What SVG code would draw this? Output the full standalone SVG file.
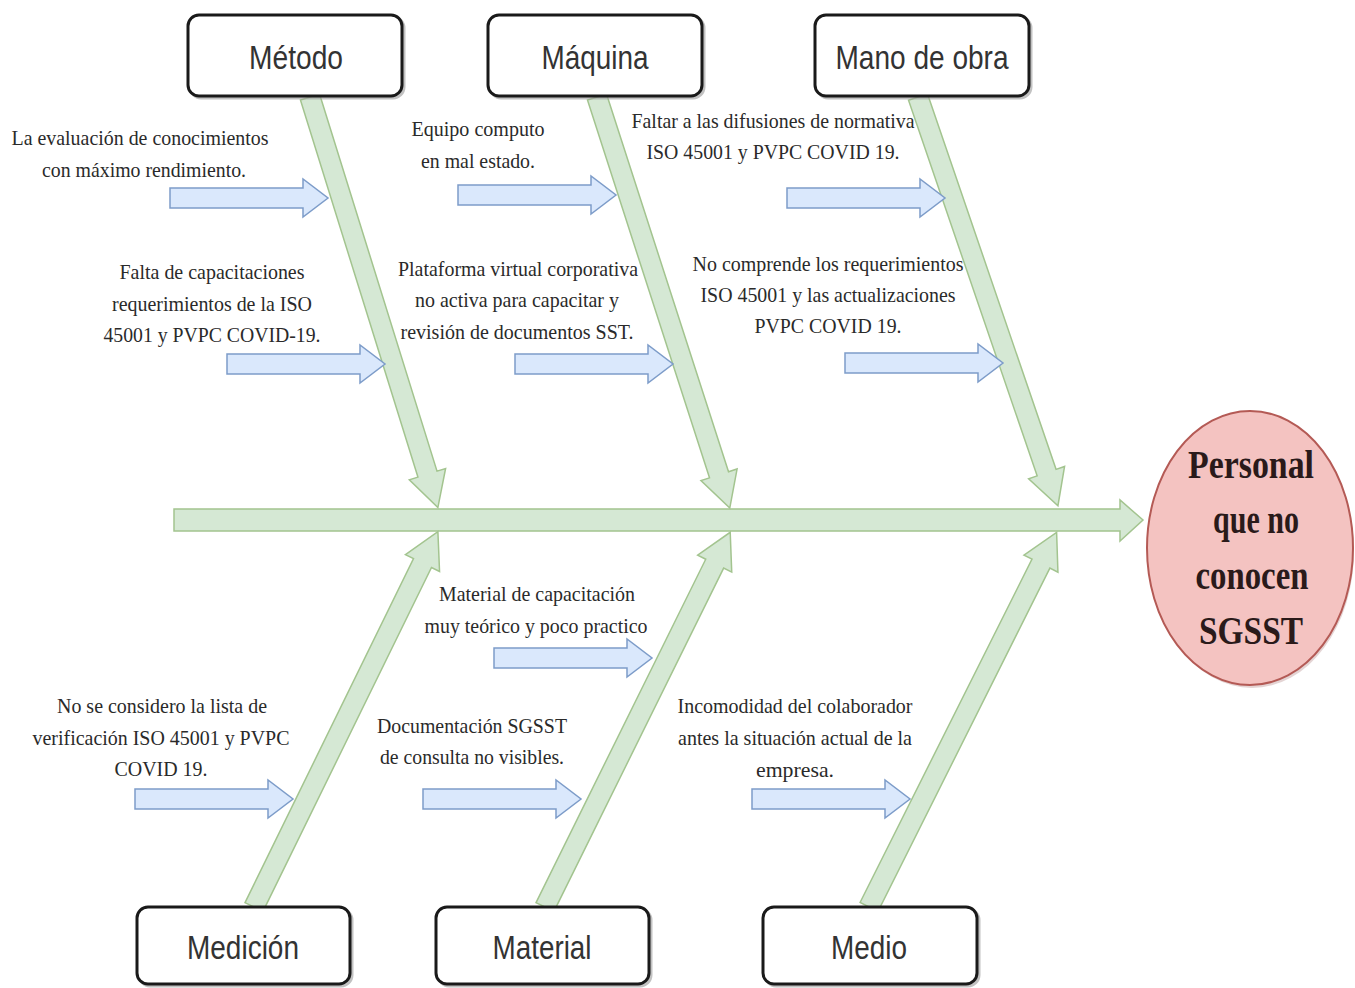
<svg xmlns="http://www.w3.org/2000/svg" width="1355" height="988" viewBox="0 0 1355 988">
<style>
.g{fill:#d5e8d4;stroke:#a3c48f;stroke-width:1.5}
.b{fill:#dae8fc;stroke:#7d9cc9;stroke-width:1.5}
.box{fill:#ffffff;stroke:#1a1a1a;stroke-width:3}
.sh{fill:none;stroke:#9a9a9a;stroke-width:3;opacity:0.6}
.lbl{font-family:"Liberation Sans",Arial,sans-serif;font-size:33px;fill:#333333;text-anchor:middle}
.t{font-family:"Liberation Serif","Times New Roman",serif;font-size:22px;fill:#2a2a2a;text-anchor:middle}
.big{font-family:"Liberation Serif","Times New Roman",serif;font-size:41px;font-weight:bold;fill:#2a1a1a;text-anchor:middle}
</style>
<defs>
<path id="ba" d="M0,-10 L133,-10 L133,-19 L158,0 L133,19 L133,10 L0,10 Z"/>
</defs>
<rect width="1355" height="988" fill="#ffffff"/>
<g id="connectors">
<path class="g" d="M174,509 L1120,509 L1120,500 L1143,520 L1120,541 L1120,531 L174,531 Z"/>
<path class="g" transform="translate(310,97) rotate(72.7)" d="M0,-10 L395,-10 L395,-19 L430,0 L395,19 L395,10 L0,10 Z"/>
<path class="g" transform="translate(597,97) rotate(72.1)" d="M0,-10 L397,-10 L397,-19 L432,0 L397,19 L397,10 L0,10 Z"/>
<path class="g" transform="translate(918,97) rotate(71.1)" d="M0,-10 L397,-10 L397,-19 L432,0 L397,19 L397,10 L0,10 Z"/>
<path class="g" transform="translate(254,907) rotate(-63.9)" d="M0,-10 L383,-10 L383,-19 L418,0 L383,19 L383,10 L0,10 Z"/>
<path class="g" transform="translate(545,907) rotate(-63.7)" d="M0,-10 L383,-10 L383,-19 L418,0 L383,19 L383,10 L0,10 Z"/>
<path class="g" transform="translate(869,907) rotate(-63.4)" d="M0,-10 L384,-10 L384,-19 L419,0 L384,19 L384,10 L0,10 Z"/>
<use href="#ba" class="b" x="170" y="198"/>
<use href="#ba" class="b" x="227" y="364"/>
<use href="#ba" class="b" x="458" y="195"/>
<use href="#ba" class="b" x="515" y="364"/>
<use href="#ba" class="b" x="787" y="198"/>
<use href="#ba" class="b" x="845" y="363"/>
<use href="#ba" class="b" x="494" y="658"/>
<use href="#ba" class="b" x="135" y="799"/>
<use href="#ba" class="b" x="423" y="799"/>
<use href="#ba" class="b" x="752" y="799"/>
</g>
<g id="metodo">
<rect class="sh" x="190" y="17" width="214" height="81" rx="11"/>
<rect class="box" x="188" y="15" width="214" height="81" rx="11"/>
<text class="lbl" x="296" y="69" textLength="94" lengthAdjust="spacingAndGlyphs">Método</text>
</g>
<g id="maquina">
<rect class="sh" x="490" y="17" width="214" height="81" rx="11"/>
<rect class="box" x="488" y="15" width="214" height="81" rx="11"/>
<text class="lbl" x="595" y="69" textLength="107" lengthAdjust="spacingAndGlyphs">Máquina</text>
</g>
<g id="mano">
<rect class="sh" x="817" y="17" width="214" height="81" rx="11"/>
<rect class="box" x="815" y="15" width="214" height="81" rx="11"/>
<text class="lbl" x="922" y="69" textLength="173" lengthAdjust="spacingAndGlyphs">Mano de obra</text>
</g>
<g id="medicion">
<rect class="sh" x="139" y="909" width="213" height="77" rx="11"/>
<rect class="box" x="137" y="907" width="213" height="77" rx="11"/>
<text class="lbl" x="243" y="959" textLength="112" lengthAdjust="spacingAndGlyphs">Medición</text>
</g>
<g id="material">
<rect class="sh" x="438" y="909" width="213" height="77" rx="11"/>
<rect class="box" x="436" y="907" width="213" height="77" rx="11"/>
<text class="lbl" x="542" y="959" textLength="99" lengthAdjust="spacingAndGlyphs">Material</text>
</g>
<g id="medio">
<rect class="sh" x="765" y="909" width="214" height="77" rx="11"/>
<rect class="box" x="763" y="907" width="214" height="77" rx="11"/>
<text class="lbl" x="869" y="959" textLength="76" lengthAdjust="spacingAndGlyphs">Medio</text>
</g>
<g id="efecto">
<ellipse cx="1252" cy="551" rx="102" ry="137" fill="#c9a9a9" opacity="0.5"/>
<ellipse cx="1250" cy="548" rx="103" ry="137" fill="#f4c3c1" stroke="#b45a55" stroke-width="2"/>
<text class="big" x="1251" y="478" textLength="126" lengthAdjust="spacingAndGlyphs">Personal</text>
<text class="big" x="1256" y="533" textLength="86" lengthAdjust="spacingAndGlyphs">que no</text>
<text class="big" x="1252" y="589" textLength="113" lengthAdjust="spacingAndGlyphs">conocen</text>
<text class="big" x="1251" y="644" textLength="104" lengthAdjust="spacingAndGlyphs">SGSST</text>
</g>
<g id="causa1">
<text class="t" x="140" y="145" textLength="257" lengthAdjust="spacingAndGlyphs">La evaluación de conocimientos</text>
<text class="t" x="144" y="177" textLength="204" lengthAdjust="spacingAndGlyphs">con máximo rendimiento.</text>
</g>
<g id="causa2">
<text class="t" x="212" y="279" textLength="185" lengthAdjust="spacingAndGlyphs">Falta de capacitaciones</text>
<text class="t" x="212" y="311" textLength="200" lengthAdjust="spacingAndGlyphs">requerimientos de la ISO</text>
<text class="t" x="212" y="342" textLength="217" lengthAdjust="spacingAndGlyphs">45001 y PVPC COVID-19.</text>
</g>
<g id="causa3">
<text class="t" x="478" y="136" textLength="133" lengthAdjust="spacingAndGlyphs">Equipo computo</text>
<text class="t" x="478" y="168" textLength="114" lengthAdjust="spacingAndGlyphs">en mal estado.</text>
</g>
<g id="causa4">
<text class="t" x="518" y="276" textLength="240" lengthAdjust="spacingAndGlyphs">Plataforma virtual corporativa</text>
<text class="t" x="517" y="307" textLength="204" lengthAdjust="spacingAndGlyphs">no activa para capacitar y</text>
<text class="t" x="517" y="339" textLength="233" lengthAdjust="spacingAndGlyphs">revisión de documentos SST.</text>
</g>
<g id="causa5">
<text class="t" x="773" y="128" textLength="283" lengthAdjust="spacingAndGlyphs">Faltar a las difusiones de normativa</text>
<text class="t" x="773" y="159" textLength="253" lengthAdjust="spacingAndGlyphs">ISO 45001 y PVPC COVID 19.</text>
</g>
<g id="causa6">
<text class="t" x="828" y="271" textLength="271" lengthAdjust="spacingAndGlyphs">No comprende los requerimientos</text>
<text class="t" x="828" y="302" textLength="255" lengthAdjust="spacingAndGlyphs">ISO 45001 y las actualizaciones</text>
<text class="t" x="828" y="333" textLength="147" lengthAdjust="spacingAndGlyphs">PVPC COVID 19.</text>
</g>
<g id="causa7">
<text class="t" x="537" y="601" textLength="196" lengthAdjust="spacingAndGlyphs">Material de capacitación</text>
<text class="t" x="536" y="633" textLength="223" lengthAdjust="spacingAndGlyphs">muy teórico y poco practico</text>
</g>
<g id="causa8">
<text class="t" x="162" y="713" textLength="210" lengthAdjust="spacingAndGlyphs">No se considero la lista de</text>
<text class="t" x="161" y="745" textLength="257" lengthAdjust="spacingAndGlyphs">verificación ISO 45001 y PVPC</text>
<text class="t" x="161" y="776" textLength="93" lengthAdjust="spacingAndGlyphs">COVID 19.</text>
</g>
<g id="causa9">
<text class="t" x="472" y="733" textLength="190" lengthAdjust="spacingAndGlyphs">Documentación SGSST</text>
<text class="t" x="472" y="764" textLength="184" lengthAdjust="spacingAndGlyphs">de consulta no visibles.</text>
</g>
<g id="causa10">
<text class="t" x="795" y="713" textLength="235" lengthAdjust="spacingAndGlyphs">Incomodidad del colaborador</text>
<text class="t" x="795" y="745" textLength="234" lengthAdjust="spacingAndGlyphs">antes la situación actual de la</text>
<text class="t" x="795" y="777" textLength="78" lengthAdjust="spacingAndGlyphs">empresa.</text>
</g>
</svg>
